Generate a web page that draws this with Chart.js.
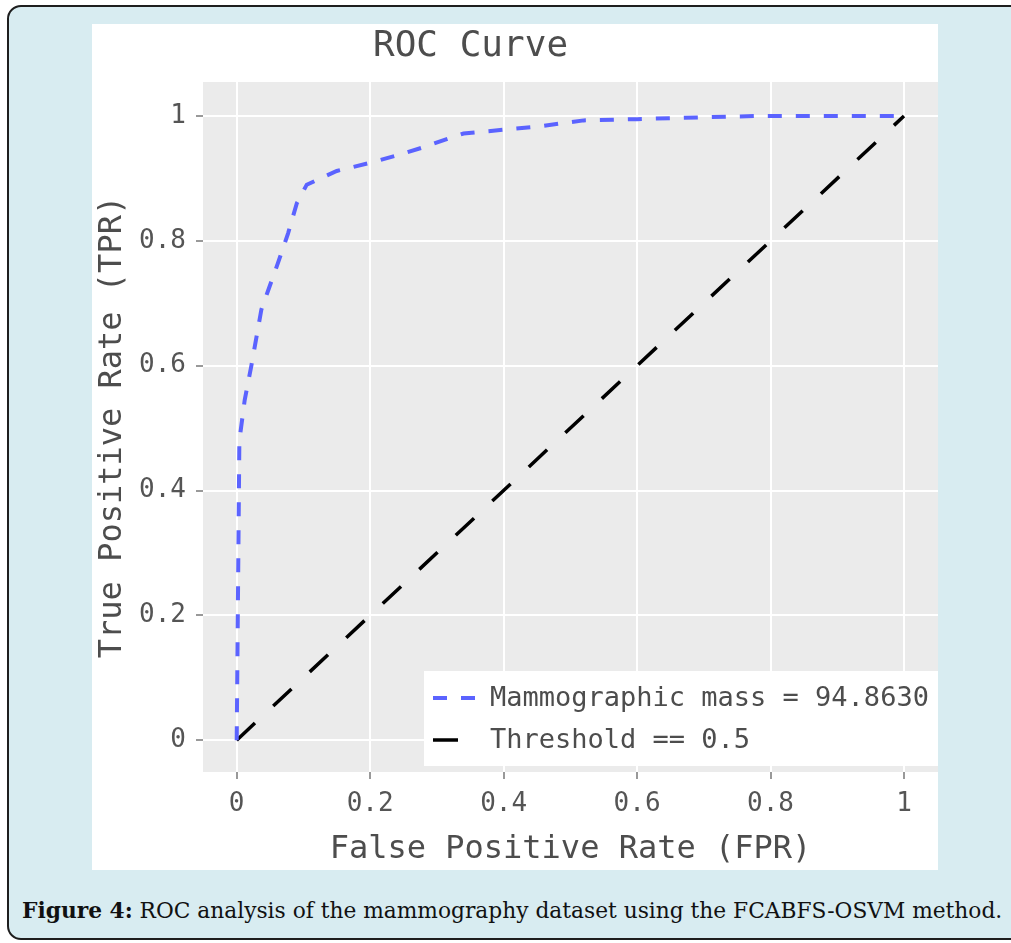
<!DOCTYPE html>
<html>
<head>
<meta charset="utf-8">
<title>ROC Curve</title>
<script src="https://cdn.jsdelivr.net/npm/chart.js@4.4.1/dist/chart.umd.min.js"></script>
<style>
  html, body { margin: 0; padding: 0; background: #fff; }
  body { width: 1011px; height: 943px; overflow: hidden; position: relative; }
  .frame {
    position: absolute; left: 7px; top: 5px; width: 1040px; height: 935px;
    background: #d8ecf1; border: 2px solid #1e1e1e; border-radius: 14px; box-sizing: border-box;
  }
  .panel { position: absolute; left: 92px; top: 24px; width: 846px; height: 846px; background: #fff; }
  .caption {
    position: absolute; left: 22px; top: 896px; white-space: nowrap; transform-origin: 0 0;
    font-family: "DejaVu Serif", serif; font-size: 23px; color: #111;
  }
</style>
</head>
<body>
<div class="frame"></div>
<div class="panel"><canvas id="rocChart" width="846" height="846"></canvas></div>
<div class="caption" id="caption"><b>Figure 4:</b> ROC analysis of the mammography dataset using the FCABFS-OSVM method.</div>

<script>
// values
const fpr = [0, 0.004, 0.012, 0.022, 0.037, 0.047, 0.062, 0.077, 0.09, 0.105, 0.15, 0.2, 0.25, 0.28, 0.32, 0.34, 0.4, 0.45, 0.52, 0.6, 0.7, 0.78, 1];
const tpr = [0, 0.48, 0.545, 0.6, 0.69, 0.72, 0.765, 0.812, 0.86, 0.89, 0.912, 0.925, 0.94, 0.95, 0.965, 0.972, 0.978, 0.983, 0.993, 0.995, 0.998, 1, 1];
const thresholdFpr = [0, 1];
const thresholdTpr = [0, 1];
const tickValues = [0, 0.2, 0.4, 0.6, 0.8, 1];
const seriesLabels = ['Mammographic mass = 94.8630', 'Threshold == 0.5'];
const chartTitle = 'ROC Curve';
const xTitle = 'False Positive Rate (FPR)';
const yTitle = 'True Positive Rate (TPR)';

const mono = '"DejaVu Sans Mono", monospace';

// squeeze the caption to the width it has in the figure
var cap = document.getElementById('caption');
cap.style.transform = 'scaleX(' + (980 / cap.offsetWidth) + ')';

function toPoints(xs, ys) {
  return xs.map(function (x, i) { return { x: x, y: ys[i] }; });
}

// grey panel behind the grid, plus title and legend box drawn on top
const ggStyle = {
  id: 'ggStyle',
  beforeDraw(chart) {
    const a = chart.chartArea, ctx = chart.ctx;
    ctx.save();
    ctx.fillStyle = '#ebebeb';
    ctx.fillRect(a.left, a.top, a.right - a.left, a.bottom - a.top);
    ctx.restore();
  },
  afterDraw(chart) {
    const a = chart.chartArea, ctx = chart.ctx;
    ctx.save();
    ctx.fillStyle = '#4d4d4d';
    ctx.font = '36px ' + mono;
    ctx.textAlign = 'left';
    ctx.textBaseline = 'middle';
    ctx.fillText(chartTitle, 281, 23);

    // legend
    const lx = a.left + 221, ly = a.bottom - 101;
    ctx.fillStyle = '#fff';
    ctx.fillRect(lx, ly, a.right - lx, 95);
    ctx.font = '27px ' + mono;
    chart.data.datasets.forEach(function (ds, i) {
      const y = ly + 27 + i * 42;
      ctx.strokeStyle = ds.borderColor;
      ctx.lineWidth = ds.borderWidth;
      ctx.setLineDash(ds.borderDash || []);
      ctx.beginPath();
      ctx.moveTo(lx + 9, y);
      ctx.lineTo(lx + 53, y);
      ctx.stroke();
      ctx.setLineDash([]);
      ctx.fillStyle = '#4d4d4d';
      ctx.fillText(ds.label, lx + 66, y + 1);
    });
    ctx.restore();
  }
};

function axis(min, max, title, fit) {
  return {
    type: 'linear',
    min: min,
    max: max,
    afterBuildTicks: function (scale) {
      scale.ticks = tickValues.map(function (v) { return { value: v }; });
    },
    afterFit: fit,
    border: { display: false },
    grid: { color: '#ffffff', lineWidth: 2, tickColor: '#777', tickWidth: 1.5, tickLength: 7 },
    ticks: {
      padding: 10,
      color: '#555',
      font: { family: mono, size: 26 },
      callback: function (v) { return String(v); }
    },
    title: {
      display: true,
      text: title,
      color: '#4d4d4d',
      font: { family: mono, size: 32 },
      padding: { top: 1, bottom: 1 }
    }
  };
}

new Chart(document.getElementById('rocChart'), {
  type: 'scatter',
  data: {
    datasets: [
      {
        label: seriesLabels[0],
        data: toPoints(fpr, tpr),
        showLine: true,
        borderColor: '#5b63ff',
        borderWidth: 4,
        borderDash: [14, 14],
        pointRadius: 0,
        tension: 0
      },
      {
        label: seriesLabels[1],
        data: toPoints(thresholdFpr, thresholdTpr),
        showLine: true,
        borderColor: '#000000',
        borderWidth: 3.5,
        borderDash: [25, 25],
        pointRadius: 0,
        tension: 0
      }
    ]
  },
  options: {
    responsive: false,
    animation: false,
    layout: { padding: { top: 58, left: 0, right: 0, bottom: 0 } },
    plugins: {
      legend: { display: false },
      tooltip: { enabled: false }
    },
    scales: {
      x: axis(-0.0505, 1.051, xTitle, function (s) { s.height = 98; }),
      y: axis(-0.051, 1.0545, yTitle, function (s) { s.width = 111; })
    }
  },
  plugins: [ggStyle]
});
</script>
</body>
</html>
